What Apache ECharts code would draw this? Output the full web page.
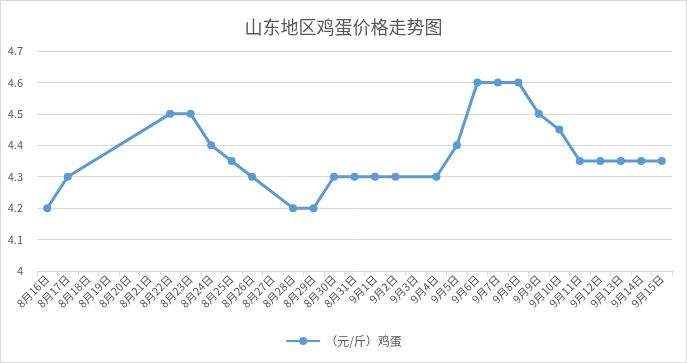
<!DOCTYPE html>
<html><head><meta charset="utf-8">
<script src="https://cdn.jsdelivr.net/npm/echarts@6/dist/echarts.min.js"></script>
<style>html,body{margin:0;padding:0;background:#fff}#c{width:687px;height:363px;box-sizing:border-box;border:1px solid #d9d9d9}</style>
</head><body><div id="c"></div>
<script>
const categories = ['8月16日','8月17日','8月18日','8月19日','8月20日','8月21日','8月22日','8月23日','8月24日','8月25日','8月26日','8月27日','8月28日','8月29日','8月30日','8月31日','9月1日','9月2日','9月3日','9月4日','9月5日','9月6日','9月7日','9月8日','9月9日','9月10日','9月11日','9月12日','9月13日','9月14日','9月15日'];
const eggPrice = [4.2,4.3,null,null,null,null,4.5,4.5,4.4,4.35,4.3,null,4.2,4.2,4.3,4.3,4.3,4.3,null,4.3,4.4,4.6,4.6,4.6,4.5,4.45,4.35,4.35,4.35,4.35,4.35];
const seriesName = '（元/斤）鸡蛋';
const chart = echarts.init(document.getElementById('c'));
const font = '"Microsoft YaHei","Noto Sans CJK SC",sans-serif';
chart.setOption({
  animation:false,
  title:{text:'山东地区鸡蛋价格走势图',left:'center',top:12,textStyle:{fontSize:18,fontWeight:'normal',color:'#595959',fontFamily:font}},
  legend:{bottom:10,left:'center',itemWidth:34,itemHeight:10,textStyle:{fontSize:12,color:'#595959',fontFamily:font},data:[seriesName]},
  grid:{left:36,right:14,top:50,bottom:91},
  xAxis:{type:'category',data:categories,boundaryGap:true,
    axisLine:{lineStyle:{color:'#d9d9d9'}},
    axisTick:{show:true,length:5,lineStyle:{color:'#d9d9d9'}},
    axisLabel:{rotate:45,interval:0,fontSize:11,color:'#595959',fontFamily:font,margin:6}},
  yAxis:{type:'value',min:4,max:4.7,interval:0.1,
    axisLine:{show:false},axisTick:{show:false},
    splitLine:{lineStyle:{color:'#d9d9d9'}},
    axisLabel:{fontSize:11,color:'#595959',fontFamily:font,margin:14,formatter:v=>String(+v.toFixed(1))}},
  series:[{name:seriesName,type:'line',data:eggPrice,connectNulls:true,
    symbol:'circle',symbolSize:8,showSymbol:true,
    lineStyle:{color:'#5b9bd5',width:3},itemStyle:{color:'#5b9bd5'}}]
});
</script></body></html>
